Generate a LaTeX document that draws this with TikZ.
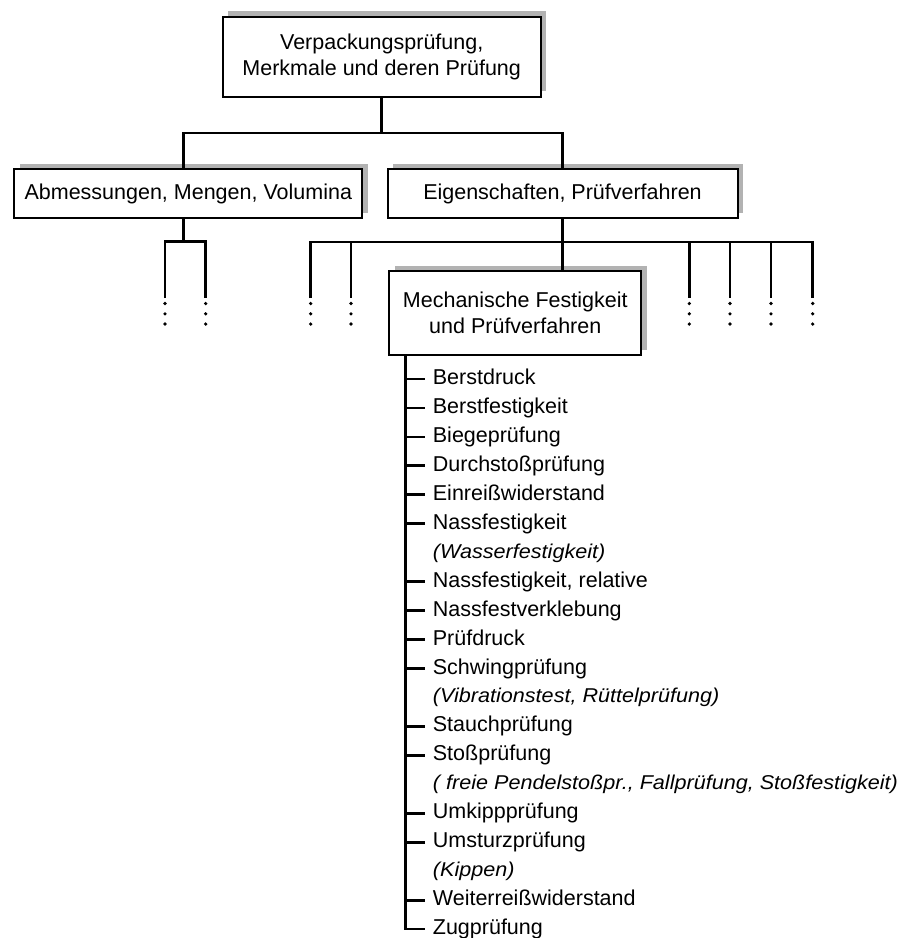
\documentclass[tikz,border=0pt]{standalone}
\usepackage{fontspec}
\setmainfont{Liberation Sans}[ItalicFeatures={FakeStretch=1.08}]
\usepackage{tikz}
\usetikzlibrary{shadows}
\tikzset{
  box/.style={
    rectangle,
    inner sep=0pt,
    align=center,
    draw=black,
    line width=1pt,
    fill=white,
    drop shadow={shadow xshift=2.75pt, shadow yshift=2.75pt, fill=black!30, opacity=1}
    },
  conn/.style={line width=1.4pt},
  item/.style={
    anchor=west,
    inner sep=0pt,
    text height=8pt,
    text depth=2.5pt
    },
  note/.style={item, font=\itshape},
}

\begin{document}
\begin{tikzpicture}[
  x=0.5pt, y=-0.5pt,
  font=\fontsize{10.75pt}{13pt}\selectfont
  ]
\useasboundingbox (0,0) rectangle (900,938);

\node (top) [box, minimum width=159pt, minimum height=40pt] at (381.7,56.8) {Verpackungsprüfung,\\Merkmale und deren Prüfung};
\node (dims) [box, minimum width=174pt, minimum height=24.5pt] at (188.3,193.8) {Abmessungen, Mengen, Volumina};
\node (props) [box, minimum width=175pt, minimum height=24.5pt] at (562.5,193.8) {Eigenschaften, Prüfverfahren};
\node (mech) [box, minimum width=126pt, minimum height=42.2pt] at (515.3,313.2) {Mechanische Festigkeit\\und Prüfverfahren};

\coordinate (ja) at (183.3,133);
\coordinate (je) at (562.7,133);
\coordinate (ka) at (183.3,241.7);
\coordinate (ke) at (562.7,242);
\foreach \x [count=\n] in {165,205.7,310.7,351,689.3,730,771,812.7}
  \coordinate (d\n) at (\x,298);

\draw [conn] (top) -- (top |- ja);
\draw [conn] (ja |- dims.north) -- (ja) -- (je) -- (je |- props.north);
\draw [conn] (ka |- dims.south) -- (ka);
\draw [conn] (ke |- props.south) -- (ke |- mech.north);
\draw [conn] (d1) -- (d1 |- ka) -- (d2 |- ka) -- (d2);
\draw [conn] (d3) -- (d3 |- ke) -- (d8 |- ke) -- (d8);
\foreach \n in {4,5,6,7}
  \draw [conn] (d\n |- ke) -- (d\n);
% dots below the open branches
\foreach \n in {1,...,8}
  \foreach \dy in {-2.75,-7.9,-13}
    \fill ([yshift=\dy pt]d\n) circle (0.9pt);

\path (mech.south west) ++(17.5,0) coordinate (t0);
\foreach \k/\txt in {0/Berstdruck, 1/Berstfestigkeit, 2/Biegeprüfung, 3/Durchstoßprüfung, 4/Einreißwiderstand, 5/Nassfestigkeit, 7/{Nassfestigkeit, relative}, 8/Nassfestverklebung, 9/Prüfdruck, 10/Schwingprüfung, 12/Stauchprüfung, 13/Stoßprüfung, 15/Umkippprüfung, 16/Umsturzprüfung, 18/Weiterreißwiderstand}
{
  \node (i\k) [item] at (432.5,{379+28.95*\k}) {\txt};
  \draw [conn] (t0 |- i\k.west) -- ([xshift=-3.75pt]i\k.west);
}
\foreach \k/\txt in {6/{(Wasserfestigkeit)}, 11/{(Vibrationstest, Rüttelprüfung)}, 14/{( freie Pendelstoßpr., Fallprüfung, Stoßfestigkeit)}, 17/{(Kippen)}}
  \node (i\k) [note] at (432.5,{379+28.95*\k}) {\txt};
\node (i19) [item] at (432.5,{379+28.95*19}) {Zugprüfung};
\draw [conn] (t0) |- ([xshift=-3.75pt]i19.west);

\end{tikzpicture}
\end{document}
